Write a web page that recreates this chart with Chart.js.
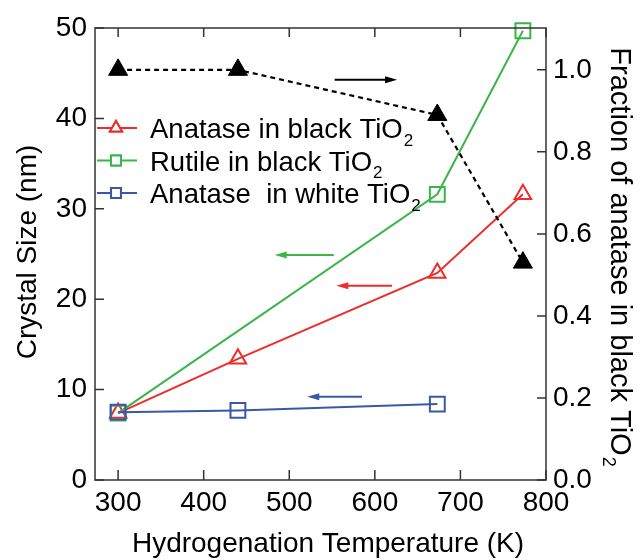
<!DOCTYPE html>
<html>
<head>
<meta charset="utf-8">
<script src="https://cdn.jsdelivr.net/npm/chart.js@4.4.1/dist/chart.umd.min.js"></script>
<style>
  html, body { margin: 0; padding: 0; background: #fff; }
  #wrap { width: 640px; height: 560px; }
</style>
</head>
<body>
<div id="wrap"><canvas id="sizeChart" width="640" height="560"></canvas></div>
<script>
// ---- data ----
const temps = [300, 440, 673, 773];
const anataseBlack = [7.4, 13.4, 22.9, 31.6];
const rutileTemps = [300, 673, 773];
const rutileBlack = [7.4, 31.6, 49.7];
const whiteTemps = [300, 440, 673];
const anataseWhite = [7.5, 7.7, 8.4];
const anataseFraction = [1.0, 1.0, 0.89, 0.53];

const xTicks = [300, 400, 500, 600, 700, 800];
const leftTicks = [0, 10, 20, 30, 40, 50];
const rightTicks = [0, 0.2, 0.4, 0.6, 0.8, 1.0];

// arrows pointing at the matching axis: [fromX, toX, y, axis, color]
const arrows = [
    [553, 626, 0.976, 'y2', '#000000'],
    [552, 483, 24.9, 'y', '#3bb54a'],
    [620, 555, 21.5, 'y', '#ec2d2a'],
    [585, 521, 9.2, 'y', '#3b57a7']
];

const RED = '#ec2d2a';
const GREEN = '#3bb54a';
const BLUE = '#3b57a7';
const FONT = "'Liberation Sans', Arial, Helvetica, sans-serif";

const pts = (xs, ys) => xs.map((x, i) => ({ x: x, y: ys[i] }));

// text with a subscript "2" at the end
function subText(ctx, main, sub, x, y, size) {
    ctx.font = size + 'px ' + FONT;
    ctx.textAlign = 'left';
    ctx.textBaseline = 'alphabetic';
    ctx.fillText(main, x, y);
    const w = ctx.measureText(main).width;
    ctx.font = Math.round(size * 0.62) + 'px ' + FONT;
    ctx.fillText(sub, x + w + 1, y + size * 0.28);
    ctx.font = size + 'px ' + FONT;
    return w + ctx.measureText(sub).width * 0.62;
}

function arrow(ctx, x1, y1, x2, y2, color) {
    ctx.save();
    ctx.strokeStyle = color;
    ctx.fillStyle = color;
    ctx.lineWidth = 2;
    const dir = Math.sign(x2 - x1);
    ctx.beginPath();
    ctx.moveTo(x1, y1);
    ctx.lineTo(x2 - dir * 8, y2);
    ctx.stroke();
    ctx.beginPath();
    ctx.moveTo(x2, y2);
    ctx.lineTo(x2 - dir * 12, y2 - 3.5);
    ctx.lineTo(x2 - dir * 12, y2 + 3.5);
    ctx.closePath();
    ctx.fill();
    ctx.restore();
}

const framePlugin = {
    id: 'frame',
    afterDraw(chart) {
        const ctx = chart.ctx;
        const a = chart.chartArea;
        const sx = chart.scales.x, sy = chart.scales.y, sy2 = chart.scales.y2;
        ctx.save();
        ctx.strokeStyle = '#333';
        ctx.lineWidth = 1.5;
        ctx.strokeRect(a.left, a.top, a.right - a.left, a.bottom - a.top);
        ctx.beginPath();
        xTicks.forEach(v => {
            const p = sx.getPixelForValue(v);
            ctx.moveTo(p, a.bottom); ctx.lineTo(p, a.bottom - 10);
            ctx.moveTo(p, a.top); ctx.lineTo(p, a.top + 9);
        });
        leftTicks.forEach(v => {
            const p = sy.getPixelForValue(v);
            ctx.moveTo(a.left, p); ctx.lineTo(a.left + 9, p);
        });
        rightTicks.forEach(v => {
            const p = sy2.getPixelForValue(v);
            ctx.moveTo(a.right, p); ctx.lineTo(a.right - 9, p);
        });
        ctx.stroke();

        // arrows
        arrows.forEach(([x1, x2, y, axis, c]) => {
            const s = chart.scales[axis];
            const py = s.getPixelForValue(y);
            arrow(ctx, sx.getPixelForValue(x1), py, sx.getPixelForValue(x2), py, c);
        });

        // legend
        const rows = [
            ['Anatase in black TiO', RED, 'triangle'],
            ['Rutile in black TiO', GREEN, 'rect'],
            ['Anatase  in white TiO', BLUE, 'rect']
        ];
        rows.forEach(([label, c, shape], i) => {
            const y = 128 + i * 32.5;
            ctx.strokeStyle = c;
            ctx.lineWidth = 2;
            ctx.beginPath();
            ctx.moveTo(a.left + 2, y); ctx.lineTo(a.left + 42, y);
            ctx.stroke();
            ctx.fillStyle = '#fff';
            Chart.helpers.drawPoint(ctx, { pointStyle: shape, radius: 7, borderWidth: 2 }, a.left + 21, y);
            ctx.fill();
            ctx.stroke();
            ctx.fillStyle = '#000';
            subText(ctx, label, '2', a.left + 55, y + 10, 27.5);
        });

        // axis titles
        ctx.fillStyle = '#000';
        ctx.font = '28px ' + FONT;
        ctx.textAlign = 'center';
        ctx.textBaseline = 'middle';
        ctx.fillText('Hydrogenation Temperature (K)', 328, 544);

        ctx.save();
        ctx.translate(28, 252);
        ctx.rotate(-Math.PI / 2);
        ctx.fillText('Crystal Size (nm)', 0, 0);
        ctx.restore();

        ctx.save();
        ctx.font = '29px ' + FONT;
        const main = 'Fraction of anatase in black TiO';
        const total = ctx.measureText(main).width + 11;
        ctx.translate(611, 257);
        ctx.rotate(Math.PI / 2);
        subText(ctx, main, '2', -total / 2, 0, 29);
        ctx.restore();

        ctx.restore();
    }
};

new Chart(document.getElementById('sizeChart'), {
    type: 'line',
    data: {
        datasets: [
            {
                label: 'Fraction of anatase',
                data: pts(temps, anataseFraction),
                yAxisID: 'y2',
                borderColor: '#000',
                borderWidth: 2.2,
                borderDash: [5, 4],
                pointStyle: 'triangle',
                pointRadius: 11,
                pointBackgroundColor: '#000',
                pointBorderColor: '#000',
                pointBorderWidth: 1,
                clip: false
            },
            {
                label: 'Anatase in white TiO2',
                data: pts(whiteTemps, anataseWhite),
                yAxisID: 'y',
                borderColor: BLUE,
                borderWidth: 2,
                pointStyle: 'rect',
                pointRadius: 10.5,
                pointBackgroundColor: 'rgba(0,0,0,0)',
                pointBorderColor: BLUE,
                pointBorderWidth: 2,
                clip: false
            },
            {
                label: 'Rutile in black TiO2',
                data: pts(rutileTemps, rutileBlack),
                yAxisID: 'y',
                borderColor: GREEN,
                borderWidth: 2,
                pointStyle: 'rect',
                pointRadius: 10.5,
                pointBackgroundColor: 'rgba(0,0,0,0)',
                pointBorderColor: GREEN,
                pointBorderWidth: 2,
                clip: false
            },
            {
                label: 'Anatase in black TiO2',
                data: pts(temps, anataseBlack),
                yAxisID: 'y',
                borderColor: RED,
                borderWidth: 2,
                pointStyle: 'triangle',
                pointRadius: 9.5,
                pointBackgroundColor: 'rgba(0,0,0,0)',
                pointBorderColor: RED,
                pointBorderWidth: 2,
                clip: false
            }
        ]
    },
    options: {
        responsive: false,
        animation: false,
        events: [],
        layout: { padding: { top: 28 } },
        plugins: { legend: { display: false }, tooltip: { enabled: false } },
        scales: {
            x: {
                type: 'linear',
                min: 273,
                max: 800,
                afterBuildTicks: s => { s.ticks = xTicks.map(v => ({ value: v })); },
                afterFit: s => { s.height = 80; },
                grid: { display: false, drawTicks: false },
                border: { display: false },
                ticks: { color: '#000', padding: 6, maxRotation: 0, font: { family: FONT, size: 28 } }
            },
            y: {
                position: 'left',
                min: 0,
                max: 50,
                afterBuildTicks: s => { s.ticks = leftTicks.map(v => ({ value: v })); },
                afterFit: s => { s.width = 95; },
                grid: { display: false, drawTicks: false },
                border: { display: false },
                ticks: { color: '#000', padding: 8, font: { family: FONT, size: 28 } }
            },
            y2: {
                position: 'right',
                min: 0,
                max: 1.102,
                afterBuildTicks: s => { s.ticks = rightTicks.map(v => ({ value: v })); },
                afterFit: s => { s.width = 94; },
                grid: { display: false, drawTicks: false },
                border: { display: false },
                ticks: {
                    color: '#000',
                    padding: 7,
                    font: { family: FONT, size: 28 },
                    callback: v => v.toFixed(1)
                }
            }
        }
    },
    plugins: [framePlugin]
});
</script>
</body>
</html>
